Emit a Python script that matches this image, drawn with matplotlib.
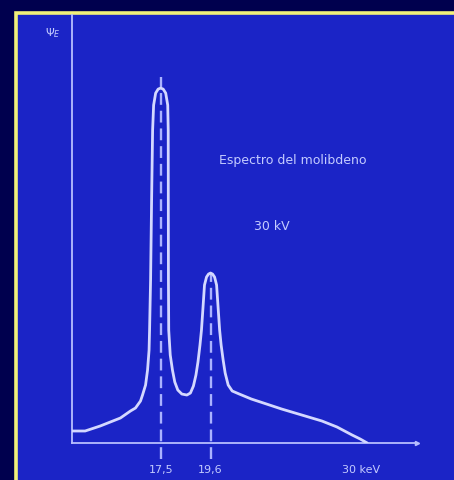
import numpy as np
import matplotlib
matplotlib.use("Agg")
import matplotlib.pyplot as plt
import matplotlib.transforms as mtransforms
from matplotlib.patches import Rectangle

# --- data (energy in keV, relative intensity) ---
energy = [0, 2.59, 5.57, 9.55, 11.53, 12.53, 13.52, 13.92, 14.52, 14.91, 15.21,
          15.31, 15.51, 15.71, 15.91, 16.11, 16.51, 17.00, 17.5, 17.606, 17.712,
          17.797, 17.818, 17.822, 17.827, 17.839, 17.903, 17.996, 18.094, 18.221,
          18.391, 18.603, 18.752, 18.879, 18.985, 19.070, 19.155, 19.218, 19.261,
          19.303, 19.345, 19.430, 19.515, 19.6, 19.734, 19.868, 20.001, 20.068,
          20.135, 20.202, 20.302, 20.436, 20.570, 20.770, 21.038, 21.506, 22.309,
          23.312, 24.315, 25.653, 26.99, 27.993, 28.997, 29.532, 30.0]
intensity = [3.38, 3.38, 4.79, 7.04, 9.01, 9.86, 11.83, 13.52, 16.34, 20.56, 26.20,
             31.83, 45.92, 68.45, 88.17, 95.21, 98.59, 99.72, 100.0, 99.72, 98.59,
             95.21, 88.17, 68.45, 45.92, 31.83, 24.79, 20.56, 17.18, 14.93,
             13.80, 13.52, 14.08, 16.06, 19.15, 22.82, 27.61, 31.83, 36.06,
             40.28, 44.51, 46.76, 47.6, 47.89, 47.6, 46.76, 44.51, 40.28,
             36.06, 31.83, 27.61, 23.38, 19.72, 16.34, 14.65, 13.80, 12.39,
             10.99, 9.58, 7.89, 6.20, 4.51, 2.25, 1.13, 0.0]
peak_energies = [17.5, 19.6]
dash_tops = [103.0, 47.9]
tick_values = [17.5, 19.6, 30]
tick_labels = ["17,5", "19,6", "30 keV"]
title_text = "Espectro del molibdeno"
voltage_text = "30 kV"
ylabel_text = r"$\Psi_E$"

# schematic (non-linear) energy axis of the original drawing
knots_e = np.array([-20, 0, 17.5, 19.6, 30, 60])
knots_p = np.array([-100, 0, 88, 137.5, 293, 742])
def fwd(x):
    return np.interp(x, knots_e, knots_p)
def inv(p):
    return np.interp(p, knots_p, knots_e)

W, H = 454, 480
fig = plt.figure(figsize=(W / 100, H / 100), dpi=100)
fig.patch.set_facecolor("#00004e")

blue = "#1b24c6"
line_c = "#d4d8ff"
text_c = "#c4cbff"

# slide panel with yellow frame
fig.add_artist(Rectangle((16 / W, -0.05), 1.2, (H - 13) / H + 0.05,
                         transform=fig.transFigure, facecolor=blue,
                         edgecolor="#f2f07a", linewidth=2.6, zorder=0))

ax = fig.add_axes([72 / W, (H - 443) / H, (417 - 72) / W, (443 - 15) / H])
ax.set_facecolor("none")
ax.set_xscale("function", functions=(fwd, inv))
ax.set_xlim(0, 33.3)
ax.set_ylim(0, 120.6)

for s in ["top", "right"]:
    ax.spines[s].set_visible(False)
for s in ["left", "bottom"]:
    ax.spines[s].set_color("#b8bfff")
    ax.spines[s].set_linewidth(1.3)

ax.plot(energy, intensity, color=line_c, lw=2.0, solid_capstyle="round",
        solid_joinstyle="round", zorder=3)

for e, top in zip(peak_energies, dash_tops):
    ax.plot([e, e], [-4.5, top], color="#aab2ff", lw=1.7,
            ls=(0, (5, 2.5)), clip_on=False, zorder=2)

# arrow tip on x axis
ax.plot([33.3], [0], marker=">", ms=3, color="#b8bfff", clip_on=False)

ax.set_xticks(tick_values)
ax.set_xticklabels(tick_labels)
ax.tick_params(axis="x", length=0, pad=16, colors=text_c, labelsize=8)
ax.set_yticks([])
lab = ax.get_xticklabels()[-1]
lab.set_transform(lab.get_transform() +
                  mtransforms.ScaledTranslation(-6 / 100, 0, fig.dpi_scale_trans))

ax.text(-0.055, 0.958, ylabel_text, transform=ax.transAxes, color=text_c,
        fontsize=8, ha="center", va="center")
ax.text(0.425, 0.66, title_text, transform=ax.transAxes, color=text_c,
        fontsize=9, ha="left", va="center")
ax.text(0.578, 0.505, voltage_text, transform=ax.transAxes, color=text_c,
        fontsize=9, ha="center", va="center")

fig.savefig("out.png", dpi=100, facecolor=fig.get_facecolor())
